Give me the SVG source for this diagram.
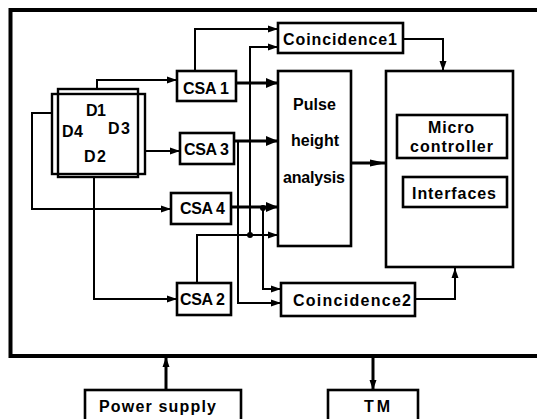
<svg xmlns="http://www.w3.org/2000/svg" width="537" height="419" viewBox="0 0 537 419">
<defs>
<style>
.box{fill:#fff;stroke:#000;stroke-width:2.6}
.det{fill:none;stroke:#000;stroke-width:2.4}
.t{font-family:"Liberation Sans",Arial,sans-serif;font-weight:bold;font-size:16px;fill:#000}
.w{fill:none;stroke:#000;stroke-width:2}
.wb{fill:none;stroke:#000;stroke-width:3}
</style>
<marker id="as" markerUnits="userSpaceOnUse" markerWidth="10" markerHeight="10" viewBox="0 0 10 10" refX="10" refY="5" orient="auto">
<path d="M0,1.5 L10,5 L0,8.5 Z" fill="#000"/>
</marker>
<marker id="ab" markerUnits="userSpaceOnUse" markerWidth="12" markerHeight="12" viewBox="0 0 12 12" refX="12" refY="6" orient="auto">
<path d="M0,1 L12,6 L0,11 Z" fill="#000"/>
</marker>
<marker id="al" markerUnits="userSpaceOnUse" markerWidth="16" markerHeight="8" viewBox="0 0 16 8" refX="16" refY="4" orient="auto">
<path d="M0,0.5 L16,4 L0,7.5 Z" fill="#000"/>
</marker>
</defs>
<rect width="537" height="419" fill="#fff"/>
<path d="M540,10 H10.5 V356 H540" fill="none" stroke="#000" stroke-width="4"/>

<g id="connectors">
<path class="w" d="M97,89 V80 H177" marker-end="url(#as)"/>
<path class="w" d="M145,151 H180" marker-end="url(#as)"/>
<path class="w" d="M52,113 H32 V209 H171" marker-end="url(#as)"/>
<path class="w" d="M94,177 V299 H177" marker-end="url(#as)"/>
<path class="w" d="M195,71 V29 H278" marker-end="url(#as)"/>
<path class="wb" d="M236,83 H278" marker-end="url(#ab)"/>
<path class="wb" d="M234,141 H278" marker-end="url(#ab)"/>
<path class="wb" d="M231,207 H278" marker-end="url(#ab)"/>
<path class="w" d="M197,283 V235 H278" marker-end="url(#as)"/>
<path class="w" d="M250,235 V47 H278" marker-end="url(#as)"/>
<path class="w" d="M238,141 V303 H281" marker-end="url(#as)"/>
<path class="w" d="M263,207 V289 H281" marker-end="url(#as)"/>
<circle cx="250" cy="235" r="3" fill="#000"/>
<circle cx="263" cy="208" r="3" fill="#000"/>
<path class="wb" d="M352,163 H386" marker-end="url(#al)"/>
<path class="w" d="M403,39 H443 V71" marker-end="url(#as)"/>
<path class="w" d="M415,299 H455 V268" marker-end="url(#as)"/>
<path class="wb" d="M166,390 V357" marker-end="url(#as)"/>
<path class="wb" d="M373,357 V390" marker-end="url(#as)"/>
</g>

<g id="detector">
<rect class="det" x="58" y="89" width="80" height="88"/>
<rect class="det" x="52" y="94" width="93" height="80"/>
<text class="t" x="86" y="116" textLength="20">D1</text>
<text class="t" x="62" y="137" textLength="21">D4</text>
<text class="t" x="108" y="134" textLength="22">D3</text>
<text class="t" x="84" y="162" textLength="22">D2</text>
</g>

<g id="csa1">
<rect class="box" x="177" y="71" width="59" height="30"/>
<text class="t" x="183" y="94" textLength="46">CSA 1</text>
</g>
<g id="csa3">
<rect class="box" x="180" y="133" width="54" height="31"/>
<text class="t" x="184" y="155" textLength="45">CSA 3</text>
</g>
<g id="csa4">
<rect class="box" x="171" y="193" width="60" height="31"/>
<text class="t" x="180" y="214" textLength="45">CSA 4</text>
</g>
<g id="csa2">
<rect class="box" x="177" y="283" width="54" height="32"/>
<text class="t" x="180" y="305" textLength="45">CSA 2</text>
</g>

<g id="coincidence1">
<rect class="box" x="278" y="23" width="125" height="30"/>
<text class="t" x="283" y="45" textLength="114">Coincidence1</text>
</g>
<g id="coincidence2">
<rect class="box" x="281" y="283" width="134" height="33"/>
<text class="t" x="293" y="306" textLength="118">Coincidence2</text>
</g>

<g id="pulse-height">
<rect class="box" x="278" y="71" width="73" height="175"/>
<text class="t" x="293" y="110" textLength="43">Pulse</text>
<text class="t" x="291" y="146" textLength="48">height</text>
<text class="t" x="283" y="183" textLength="62">analysis</text>
</g>

<g id="microcontroller-unit">
<rect class="box" x="386" y="71" width="127" height="196"/>
<rect class="box" x="397" y="115" width="110" height="43"/>
<text class="t" x="428" y="133" textLength="46">Micro</text>
<text class="t" x="410" y="152" textLength="83">controller</text>
<rect class="box" x="403" y="177" width="104" height="30"/>
<text class="t" x="412" y="199" textLength="84">Interfaces</text>
</g>

<g id="power-supply">
<rect class="box" x="85" y="390" width="156" height="40"/>
<text class="t" x="99" y="412" textLength="117">Power supply</text>
</g>
<g id="tm">
<rect class="box" x="328" y="390" width="90" height="40"/>
<text class="t" x="364" y="412" textLength="26">TM</text>
</g>
</svg>
